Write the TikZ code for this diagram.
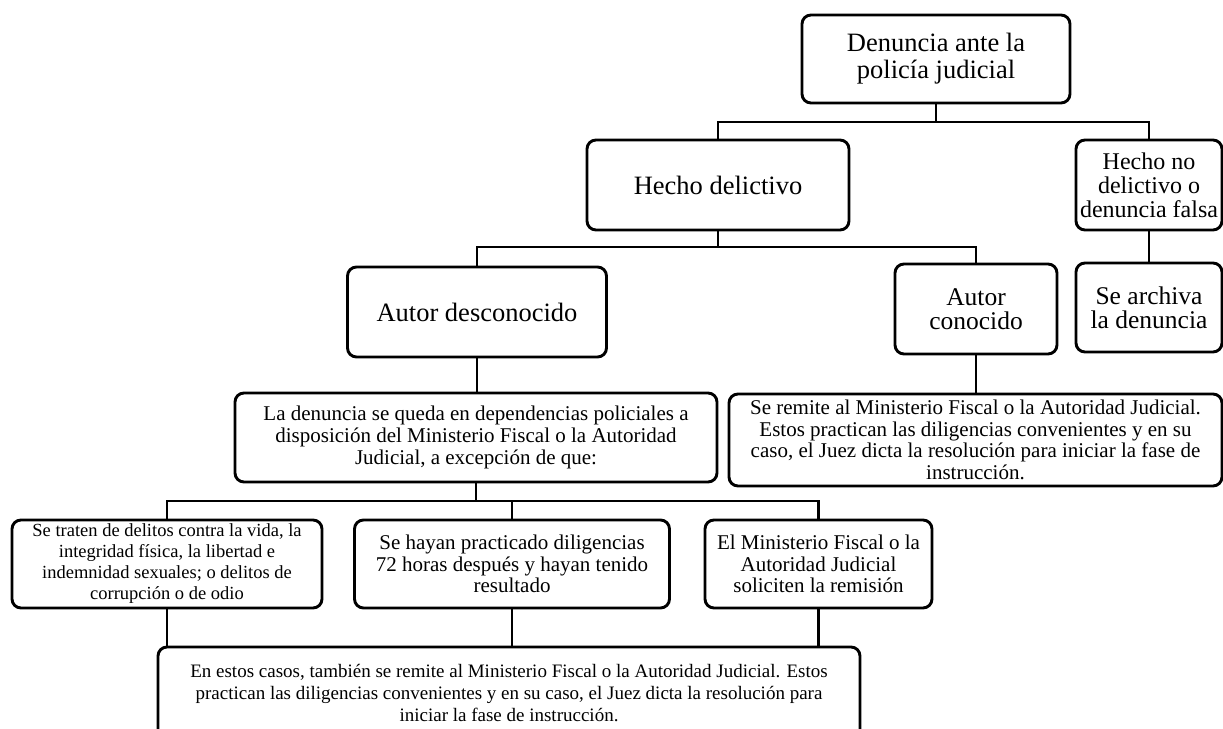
\documentclass[tikz,border=0pt]{standalone}
\usepackage{fontspec}
\setmainfont{Liberation Serif}
\begin{document}
\begin{tikzpicture}[x=1pt,y=-1pt,
  box/.style={draw, line width=2.9pt, rounded corners=9pt, fill=white, align=center, inner sep=0pt},
  conn/.style={line width=2.9pt},
  fbig/.style={font=\fontsize{26.5}{27}\selectfont},
  fmed/.style={font=\fontsize{25.5}{24}\selectfont},
  fsm/.style={font=\fontsize{21}{21.7}\selectfont},
  fxs/.style={font=\fontsize{18.5}{21}\selectfont}]
\useasboundingbox (0,0) rectangle (1223,728);
\clip (0,0) rectangle (1223,728);
% nodes
\node[box, fbig, minimum width=268pt, minimum height=88pt] (top) at (936,59) {Denuncia ante la\\policía judicial};
\node[box, fbig, minimum width=262pt, minimum height=90pt] (hd) at (718,185) {Hecho delictivo};
\node[box, font=\fontsize{24}{24}\selectfont, minimum width=146pt, minimum height=90pt] (hnd) at (1149,185) {Hecho no\\delictivo o\\denuncia falsa};
\node[box, fmed, minimum width=146pt, minimum height=89pt] (sa) at (1149,307.5) {Se archiva\\la denuncia};
\node[box, fbig, minimum width=259pt, minimum height=90pt] (ad) at (477,312) {Autor desconocido};
\node[box, fmed, minimum width=162pt, minimum height=90pt] (ac) at (976,309) {Autor\\conocido};
\node[box, fsm, minimum width=482pt, minimum height=89pt] (ld) at (476,437.5) {La denuncia se queda en dependencias policiales a\\disposición del Ministerio Fiscal o la Autoridad\\Judicial, a excepción de que:};
\node[box, fsm, minimum width=493pt, minimum height=92pt] (sr) at (975.5,440) {Se remite al Ministerio Fiscal o la Autoridad Judicial.\\Estos practican las diligencias convenientes y en su\\caso, el Juez dicta la resolución para iniciar la fase de\\instrucción.};
\node[box, fxs, minimum width=310pt, minimum height=88pt] (b1) at (167,564) {Se traten de delitos contra la vida, la\\integridad física, la libertad e\\indemnidad sexuales; o delitos de\\corrupción o de odio};
\node[box, fsm, minimum width=315pt, minimum height=88pt] (b2) at (512,564) {Se hayan practicado diligencias\\72 horas después y hayan tenido\\resultado};
\node[box, fsm, minimum width=227pt, minimum height=88pt] (b3) at (818.5,564) {El Ministerio Fiscal o la\\Autoridad Judicial\\soliciten la remisión};
\node[box, font=\fontsize{19}{22}\selectfont, minimum width=702pt, minimum height=93pt] (bot) at (509,693.5) {En estos casos, también se remite al Ministerio Fiscal o la Autoridad Judicial. Estos\\practican las diligencias convenientes y en su caso, el Juez dicta la resolución para\\iniciar la fase de instrucción.};
% connectors
\coordinate (j1) at (936,122);
\draw[conn] (top.south) -- (j1);
\draw[conn] (hd.north) |- (j1) -| (hnd.north);
\draw[conn] (hnd.south) -- (sa.north);
\coordinate (j2) at (718,247);
\draw[conn] (hd.south) -- (j2);
\draw[conn] (ad.north) |- (j2) -| (ac.north);
\draw[conn] (ad.south) -- (ad.south |- ld.north);
\draw[conn] (ac.south) -- (ac.south |- sr.north);
\coordinate (j3) at (476,501);
\draw[conn] (ld.south) -- (j3);
\draw[conn] (b1.north) |- (j3) -| (b3.north);
\draw[conn] (b2.north) -- (b2.north |- j3);
\draw[conn] (b1.south) -- (b1.south |- bot.north);
\draw[conn] (b2.south) -- (b2.south |- bot.north);
\draw[conn] (b3.south) -- (b3.south |- bot.north);
\end{tikzpicture}
\end{document}
